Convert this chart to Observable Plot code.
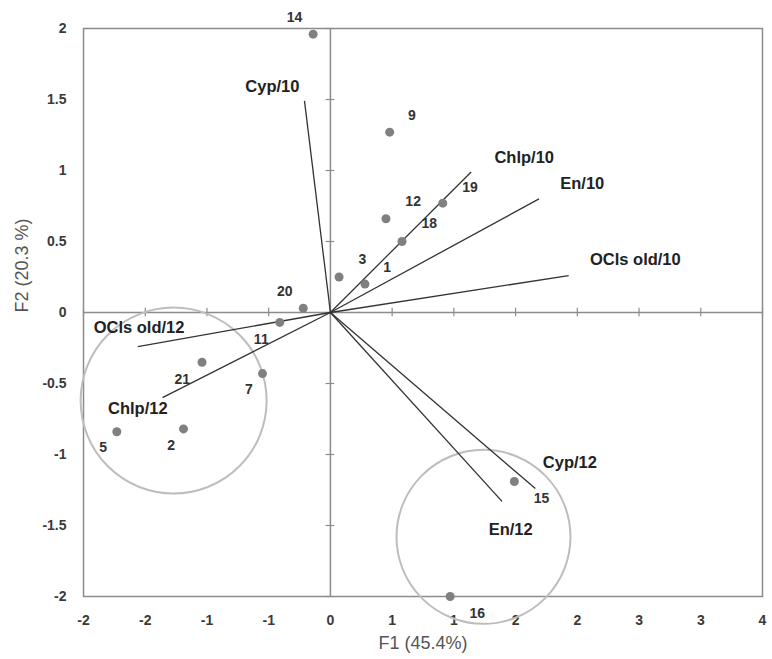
<!DOCTYPE html>
<html>
<head>
<meta charset="utf-8">
<script src="https://cdn.jsdelivr.net/npm/d3@7"></script>
<script src="https://cdn.jsdelivr.net/npm/@observablehq/plot@0.6"></script>
<style>
  html, body { margin: 0; padding: 0; background: #fff; }
  #chart { width: 772px; height: 659px; }
</style>
</head>
<body>
<div id="chart"></div>
<script>
// Observations (sites)
const pointIds = ["1","2","3","5","7","9","11","12","14","15","16","18","19","20","21"];
const pointF1  = [0.28, -1.19, 0.07, -1.73, -0.55, 0.48, -0.41, 0.45, -0.14, 1.49, 0.97, 0.58, 0.91, -0.22, -1.04];
const pointF2  = [0.20, -0.82, 0.25, -0.84, -0.43, 1.27, -0.07, 0.66, 1.96, -1.19, -2.00, 0.50, 0.77, 0.03, -0.35];
const pointLabelF1 = [0.46, -1.29, 0.26, -1.84, -0.66, 0.66, -0.56, 0.67, -0.29, 1.71, 1.19, 0.80, 1.13, -0.37, -1.20];
const pointLabelF2 = [0.32, -0.94, 0.37, -0.95, -0.54, 1.39, -0.19, 0.78, 2.08, -1.31, -2.12, 0.63, 0.88, 0.15, -0.47];

// Variables (vectors from origin)
const varNames = ["Cyp/10", "Chlp/10", "En/10", "OCls old/10", "OCls old/12", "Chlp/12", "Cyp/12", "En/12"];
const varF1 = [-0.21, 1.14, 1.69, 1.93, -1.56, -1.36, 1.66, 1.39];
const varF2 = [1.49, 0.99, 0.80, 0.26, -0.24, -0.60, -1.24, -1.33];
const varLabelF1 = [-0.47, 1.57, 2.04, 2.47, -1.55, -1.56, 1.94, 1.46];
const varLabelF2 = [1.59, 1.09, 0.91, 0.37, -0.11, -0.68, -1.06, -1.53];

// Group circles
const groupF1 = [-1.27, 1.24];
const groupF2 = [-0.62, -1.58];

// Ticks
const xTicks = [-2, -1.5, -1, -0.5, 0, 0.5, 1, 1.5, 2, 2.5, 3, 3.5];
const xTickLabels = ["-2", "-2", "-1", "-1", "0", "1", "1", "2", "2", "3", "3", "4"];
const yTicks = [-2, -1.5, -1, -0.5, 0, 0.5, 1, 1.5, 2];
const yTickLabels = ["-2", "-1.5", "-1", "-0.5", "0", "0.5", "1", "1.5", "2"];

const points = pointIds.map((id, i) => ({id, x: pointF1[i], y: pointF2[i], lx: pointLabelF1[i], ly: pointLabelF2[i]}));
const vars = varNames.map((name, i) => ({name, x: varF1[i], y: varF2[i], lx: varLabelF1[i], ly: varLabelF2[i]}));
const groups = groupF1.map((x, i) => ({x, y: groupF2[i]}));
const xt = xTicks.map((v, i) => ({v, label: xTickLabels[i]}));
const yt = yTicks.map((v, i) => ({v, label: yTickLabels[i]}));

const axisGray = "#8c8c8c";

const chart = Plot.plot({
  width: 772,
  height: 659,
  marginLeft: 83,
  marginRight: 10,
  marginTop: 28,
  marginBottom: 63,
  x: {domain: [-2, 3.5], axis: null},
  y: {domain: [-2, 2], axis: null},
  style: {fontFamily: "'Liberation Sans', Arial, sans-serif", background: "#fff"},
  marks: [
    Plot.frame({stroke: axisGray, strokeWidth: 1.5}),
    Plot.ruleY([0], {stroke: axisGray, strokeWidth: 1.5}),
    Plot.ruleX([0], {stroke: axisGray, strokeWidth: 1.5}),
    Plot.ruleX(xt, {x: "v", y1: -0.03, y2: 0.03, stroke: axisGray, strokeWidth: 1.2}),
    Plot.ruleY(yt, {y: "v", x1: -0.035, x2: 0.035, stroke: axisGray, strokeWidth: 1.2}),
    Plot.text(xt, {x: "v", y: -2, text: "label", dy: 24, fontSize: 14, fill: "#3a3a3a", fontWeight: "bold"}),
    Plot.text(yt, {x: -2, y: "v", text: "label", dx: -17, textAnchor: "end", fontSize: 14, fill: "#3a3a3a", fontWeight: "bold"}),
    Plot.text(["F1 (45.4%)"], {frameAnchor: "bottom", dy: 52, fontSize: 18, fill: "#555"}),
    Plot.text(["F2 (20.3 %)"], {frameAnchor: "left", dx: -61, rotate: -90, fontSize: 18, fill: "#555"}),
    Plot.dot(groups.slice(0, 1), {x: "x", y: "y", r: 93, stroke: "#bdbdbd", strokeWidth: 2, fill: "none"}),
    Plot.dot(groups.slice(1, 2), {x: "x", y: "y", r: 87, stroke: "#bdbdbd", strokeWidth: 2, fill: "none"}),
    Plot.link(vars, {x1: 0, y1: 0, x2: "x", y2: "y", stroke: "#333", strokeWidth: 1.3}),
    Plot.dot(points, {x: "x", y: "y", r: 4.5, fill: "#808080", stroke: "none"}),
    Plot.text(points, {x: "lx", y: "ly", text: "id", fontSize: 14, fontWeight: "bold", fill: "#333"}),
    Plot.text(vars, {x: "lx", y: "ly", text: "name", fontSize: 16.5, fontWeight: "bold", fill: "#222"})
  ]
});
document.getElementById("chart").appendChild(chart);
</script>
</body>
</html>
